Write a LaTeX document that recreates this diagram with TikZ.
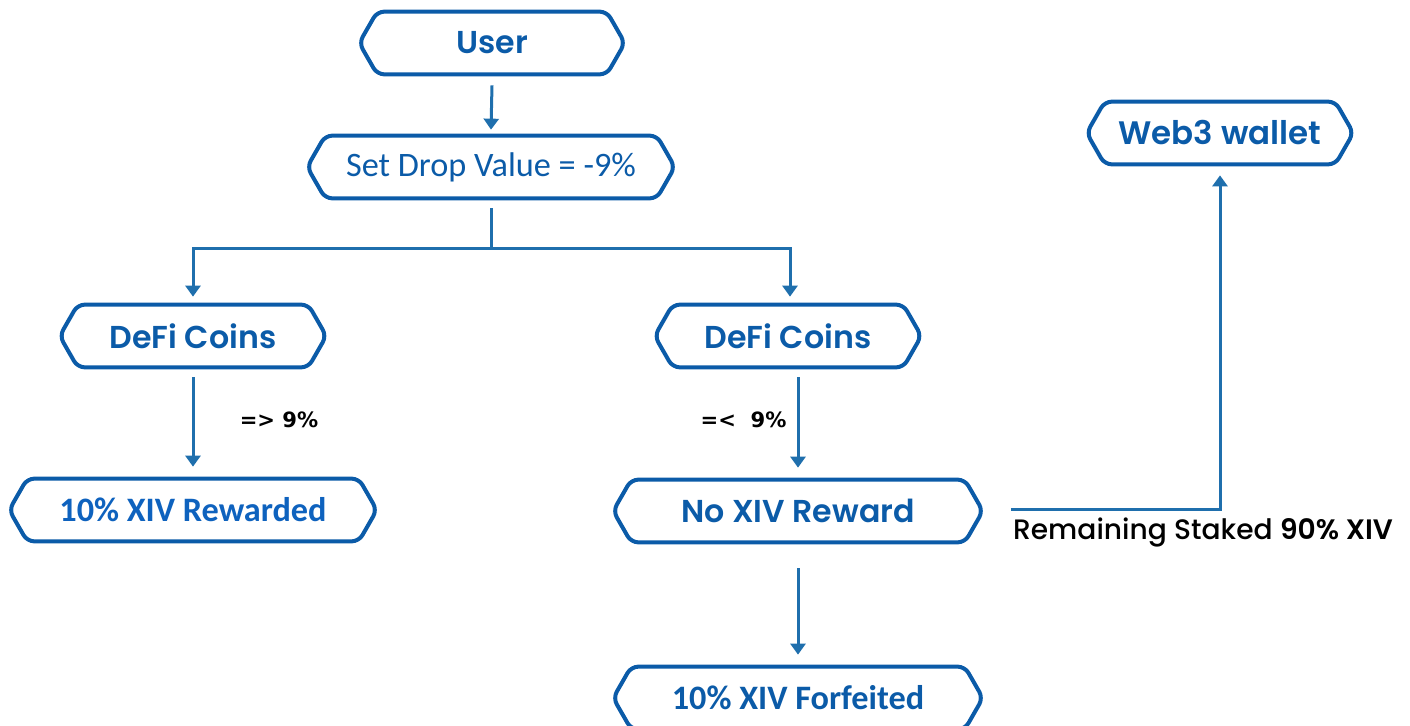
\documentclass[tikz,border=0pt]{standalone}
\usepackage{fontspec}
\setmainfont{Poppins}[UprightFont=* Medium, BoldFont=* SemiBold]
\newfontfamily\headfont{Poppins}[UprightFont=* SemiBold]
\newfontfamily\calib{Carlito}
\newfontfamily\djv{DejaVu Sans}[BoldFont={DejaVu Sans Bold}]
\usetikzlibrary{arrows.meta,positioning}
\definecolor{hexblue}{RGB}{11,91,168}
\definecolor{linkblue}{RGB}{31,111,173}
\definecolor{textblue}{RGB}{14,98,190}
\tikzset{
  hexbox/.style={minimum width=#1, minimum height=1.24cm, inner sep=0pt, text=hexblue},
  hexline/.style={draw=hexblue, line width=0.08cm, rounded corners=4pt},
  link/.style={draw=linkblue, line width=0.06cm},
  arrow/.style={link, -{Triangle[width=0.3cm,length=0.22cm]}},
  cond/.style={font=\djv\bfseries\fontsize{12}{14}\selectfont}
}
\begin{document}
\begin{tikzpicture}
  \useasboundingbox (0,0) rectangle (28.2,-14.52);
  % boxes
  \node[hexbox=4.58cm, font=\headfont\fontsize{18}{20}\selectfont] (user) at (9.84,-0.86) {User};
  \node[hexbox=6.62cm, font=\calib\fontsize{19.5}{22}\selectfont] (drop) at (9.82,-3.34) {Set Drop Value = -9\%};
  \node[hexbox=4.6cm, font=\headfont\fontsize{18}{20}\selectfont] (defiL) at (3.86,-6.72) {DeFi Coins};
  \node[hexbox=4.6cm, font=\headfont\fontsize{18}{20}\selectfont] (defiR) at (15.76,-6.72) {DeFi Coins};
  \node[hexbox=6.62cm, text=textblue, font=\calib\bfseries\fontsize{19.5}{22}\selectfont] (rewarded) at (3.86,-10.2) {10\% XIV Rewarded};
  \node[hexbox=6.66cm, font=\headfont\fontsize{18}{20}\selectfont] (noreward) at (15.96,-10.22) {No XIV Reward};
  \node[hexbox=6.66cm, font=\calib\bfseries\fontsize{19.5}{22}\selectfont] (forfeit) at (15.96,-13.96) {10\% XIV Forfeited};
  \node[hexbox=4.6cm, font=\headfont\fontsize{18.5}{20}\selectfont] (wallet) at (24.4,-2.66) {Web3 wallet};
  \foreach \n in {user,drop,defiL,defiR,rewarded,noreward,forfeit,wallet}
    \draw[hexline] (\n.north west) -- (\n.north east) -- ([xshift=0.36cm]\n.east)
      -- (\n.south east) -- (\n.south west) -- ([xshift=-0.36cm]\n.west) -- cycle;
  % connectors
  \coordinate (split) at (9.82,-4.96);
  \draw[arrow] ([yshift=-0.22cm]user.south) -- ([yshift=0.12cm]drop.north);
  \draw[link] ([yshift=-0.2cm]drop.south) -- (split);
  \draw[arrow] (split) -| ([yshift=0.16cm]defiL.north);
  \draw[arrow] (split) -| ([xshift=0.04cm,yshift=0.16cm]defiR.north);
  \draw[arrow] ([yshift=-0.2cm]defiL.south) -- ([yshift=0.24cm]rewarded.north);
  \draw[arrow] ([yshift=-0.2cm]defiR.south -| noreward.north) -- ([yshift=0.24cm]noreward.north);
  \draw[arrow] ([yshift=-0.52cm]noreward.south) -- ([yshift=0.24cm]forfeit.north);
  \draw[arrow] ([xshift=0.92cm,yshift=0.04cm]noreward.east) -| ([yshift=-0.22cm]wallet.south);
  % labels
  \node[cond] (gt) at (5.58,-8.4) {=>\ 9\%};
  \node[cond] (lt) at (14.87,-8.4) {=<\ \ 9\%};
  \node[font=\fontsize{16}{18}\selectfont] (rest) at (24.06,-10.64) {Remaining Staked \textbf{90\% XIV}};
\end{tikzpicture}
\end{document}
